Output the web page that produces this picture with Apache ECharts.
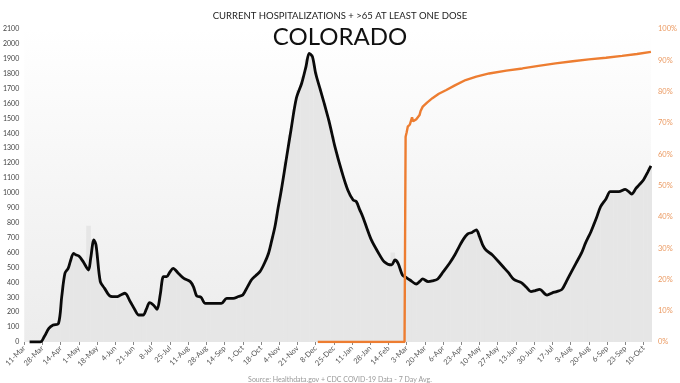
<!DOCTYPE html>
<html><head><meta charset="utf-8">
<script src="https://cdn.jsdelivr.net/npm/echarts@6/dist/echarts.min.js"></script>
<style>html,body{margin:0;padding:0;background:#fff}#c{width:680px;height:383px}</style>
</head><body><div id="c"></div>
<script>
// axis: daily categories starting 11-Mar-2020
const startDate = [2020, 2, 11];
const dayCount = 586;
const monthNames = ['Jan','Feb','Mar','Apr','May','Jun','Jul','Aug','Sep','Oct','Nov','Dec'];
const labelEvery = 17;
const leftTicks = [0,2100,100];
const rightTicks = [0,100,10];

// 7-day average hospitalizations [dayIndex, value]
const hospLine = [[5,0],[15,0],[19,40],[23,92],[27,114],[32,125],[35,304],[38,461],[41,494],[43,540],[46,595],[48,585],[51,577],[55,539],[60,483],[62,560],[65,685],[67,651],[71,405],[75,360],[80,309],[86,304],[90,315],[94,327],[99,270],[103,220],[107,181],[111,181],[114,220],[117,264],[121,245],[124,219],[127,320],[130,438],[133,438],[136,470],[139,494],[144,460],[149,427],[155,405],[158,370],[161,309],[165,300],[169,259],[176,259],[184,259],[189,293],[195,293],[200,305],[204,315],[208,365],[212,416],[216,445],[220,472],[224,525],[228,594],[231,680],[234,773],[237,900],[240,1020],[245,1244],[249,1423],[254,1635],[259,1736],[263,1848],[266,1937],[269,1915],[272,1803],[276,1702],[280,1601],[285,1467],[290,1311],[296,1154],[302,1020],[307,953],[310,942],[313,890],[316,841],[320,760],[324,685],[330,606],[336,539],[343,517],[346,550],[349,528],[353,450],[357,430],[360,416],[366,389],[369,405],[372,423],[377,405],[381,410],[386,423],[391,470],[397,528],[402,585],[406,640],[410,690],[414,725],[418,735],[422,752],[425,707],[428,650],[431,617],[437,584],[442,545],[447,505],[452,465],[457,420],[464,398],[469,365],[473,338],[477,345],[481,353],[488,315],[493,330],[497,338],[502,353],[506,405],[510,461],[515,528],[520,594],[524,665],[529,740],[534,830],[538,908],[543,960],[547,1009],[551,1009],[555,1009],[561,1024],[564,1010],[567,993],[571,1030],[574,1054],[578,1087],[582,1140],[585,1181]];

// daily hospitalizations (bars) [dayIndex, value]
const hospBars = [[4,0],[8,0],[12,0],[16,5],[20,60],[24,100],[28,118],[32,130],[36,380],[40,480],[44,560],[48,600],[52,570],[56,530],[60,780],[64,690],[68,600],[72,390],[76,350],[80,310],[84,300],[88,310],[92,325],[96,300],[100,255],[104,205],[108,180],[112,190],[116,250],[120,250],[124,220],[128,360],[132,440],[136,470],[140,490],[144,460],[148,430],[152,415],[156,395],[160,320],[164,300],[168,265],[172,255],[176,260],[180,255],[184,262],[188,290],[192,295],[196,295],[200,305],[204,318],[208,365],[212,420],[216,450],[220,475],[224,530],[228,600],[232,710],[236,860],[240,1030],[244,1210],[248,1390],[252,1560],[256,1690],[260,1780],[264,1900],[268,1930],[272,1810],[276,1700],[280,1600],[284,1490],[288,1380],[292,1260],[296,1150],[300,1060],[304,990],[308,950],[312,910],[316,840],[320,760],[324,690],[328,630],[332,585],[336,545],[340,525],[344,600],[348,530],[352,460],[356,430],[360,415],[364,395],[368,400],[372,425],[376,405],[380,410],[384,420],[388,440],[392,480],[396,520],[400,565],[404,620],[408,670],[412,715],[416,735],[420,750],[424,720],[428,650],[432,612],[436,590],[440,560],[444,525],[448,495],[452,465],[456,425],[460,410],[464,398],[468,370],[472,345],[476,343],[480,352],[484,330],[488,318],[492,328],[496,338],[500,348],[504,380],[508,435],[512,490],[516,540],[520,600],[524,665],[528,725],[532,800],[536,870],[540,930],[544,980],[548,1010],[552,1010],[556,1012],[560,1022],[564,1010],[568,1000],[572,1045],[576,1070],[580,1115],[584,1175]];

// % of >65 with at least one dose [dayIndex, percent]
const doseLine = [[274,0],[355,0],[356,65.6],[357,67],[358,68.8],[360,69.5],[362,71.8],[363,70.5],[364,70.4],[366,71.2],[369,72.5],[370,73.8],[372,75.2],[376,76.5],[381,77.9],[387,79.3],[394,80.5],[402,82],[412,83.7],[422,84.8],[434,85.8],[450,86.7],[465,87.4],[480,88.2],[496,89],[512,89.7],[527,90.3],[543,90.8],[558,91.4],[572,92],[585,92.7]];

const categories = [];
for (let i = 0; i < dayCount; i++) {
  const d = new Date(startDate[0], startDate[1], startDate[2] + i);
  categories.push(d.getFullYear() + '-' + (d.getMonth()+1) + '-' + d.getDate());
}
function fmt(s){const p=s.split('-');return p[2]+'-'+monthNames[+p[1]-1];}

const chart = echarts.init(document.getElementById('c'), null, {renderer:'canvas'});
const FONT = 'Lato';
chart.setOption({
  animation:false,
  backgroundColor:'#ffffff',
  title:[
    {text:'CURRENT HOSPITALIZATIONS + >65 AT LEAST ONE DOSE', left:'center', top:6,
     textStyle:{fontFamily:FONT, fontSize:9.5, fontWeight:'normal', color:'#222'}},
    {text:'COLORADO', left:'center', top:20,
     textStyle:{fontFamily:FONT, fontSize:24, fontWeight:'normal', color:'#111'}},
    {text:'Source: Healthdata.gov + CDC COVID-19 Data - 7 Day Avg.', left:'center', top:371,
     textStyle:{fontFamily:FONT, fontSize:7, fontWeight:'normal', color:'#999'}}
  ],
  grid:{left:22, right:27, top:29, bottom:41, show:true, borderWidth:0,
    backgroundColor:new echarts.graphic.LinearGradient(0,0,0,1,[{offset:0,color:'#ffffff'},{offset:1,color:'#ececec'}])},
  xAxis:{type:'category', data:categories, boundaryGap:false,
    axisLine:{show:false},
    axisTick:{show:true, interval:labelEvery-1, length:3, lineStyle:{color:'#888'}},
    axisLabel:{interval:labelEvery-1, rotate:45, fontSize:7.5, color:'#555', fontFamily:FONT, margin:5, formatter:fmt},
    splitLine:{show:false}},
  yAxis:[
    {type:'value', min:leftTicks[0], max:leftTicks[1], interval:leftTicks[2],
     axisLine:{show:false}, axisTick:{show:false}, splitLine:{show:false},
     axisLabel:{fontSize:7, color:'#444', fontFamily:FONT, margin:5, formatter:function(v){return String(v);}}},
    {type:'value', min:rightTicks[0], max:rightTicks[1], interval:rightTicks[2], position:'right',
     axisLine:{show:false}, axisTick:{show:false}, splitLine:{show:false},
     axisLabel:{fontSize:7.5, color:'#eb9a62', fontFamily:FONT, margin:7, formatter:'{value}%'}}
  ],
  series:[
    {type:'bar', data:hospBars, barWidth:4.6, itemStyle:{color:'#e6e6e6'}, silent:true, z:1},
    {type:'line', data:hospLine, smooth:0.3, showSymbol:false, lineStyle:{color:'#0a0a0a', width:2.8}, z:3},
    {type:'line', yAxisIndex:1, data:doseLine, smooth:false, showSymbol:false, lineStyle:{color:'#ed7d31', width:2.4}, z:4}
  ]
});
</script></body></html>
